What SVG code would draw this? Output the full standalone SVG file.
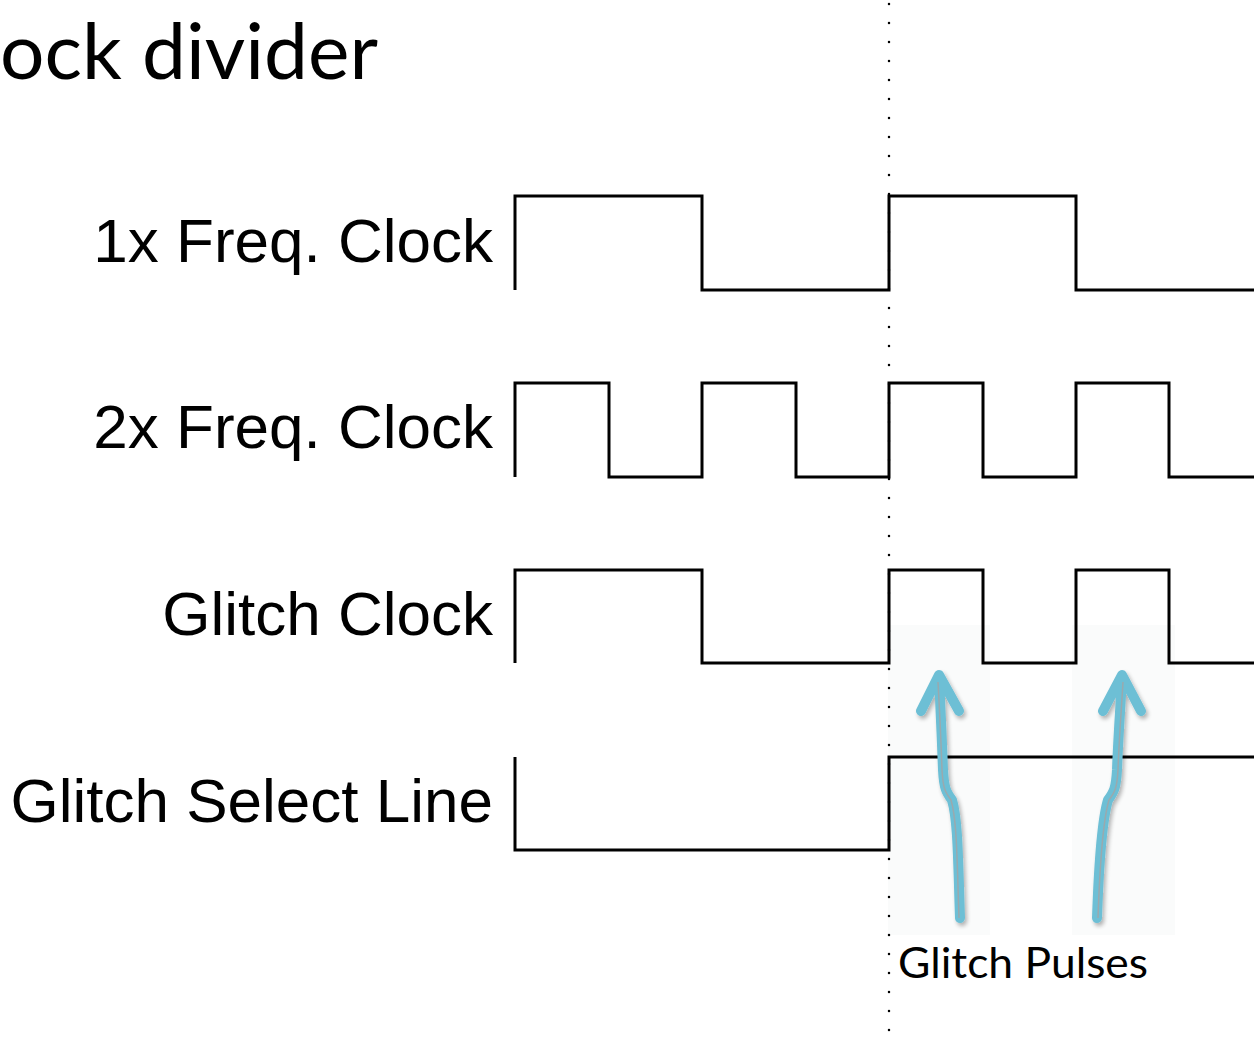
<svg xmlns="http://www.w3.org/2000/svg" width="1254" height="1039" viewBox="0 0 1254 1039">
<style>
.wave{fill:none;stroke:#000;stroke-width:3;stroke-linejoin:miter}
.lbl{font-family:"Liberation Sans",Arial,sans-serif;font-size:62px;fill:#000;text-anchor:end}
.arrow{fill:none;stroke:#6dbfd5;stroke-width:10;stroke-linecap:round;stroke-linejoin:round}
.core{fill:none;stroke:#9aa9ae;stroke-width:1.5}
.hl{fill:#fafbfb}
</style>
<defs>
<filter id="sh" x="-50%" y="-10%" width="200%" height="120%">
<feGaussianBlur in="SourceAlpha" stdDeviation="2"/>
<feOffset dx="2" dy="3"/>
<feComponentTransfer><feFuncA type="linear" slope="0.3"/></feComponentTransfer>
<feMerge><feMergeNode/><feMergeNode in="SourceGraphic"/></feMerge>
</filter>
</defs>
<rect width="1254" height="1039" fill="#fff"/>
<g id="highlights">
<rect class="hl" x="888" y="625" width="102" height="310"/>
<rect class="hl" x="1072" y="625" width="103" height="310"/>
</g>
<text id="title" x="0" y="79" font-family="Lato,'Open Sans',sans-serif" font-size="78" textLength="378" lengthAdjust="spacingAndGlyphs">ock divider</text>
<line id="divider" x1="889" y1="4" x2="889" y2="1039" stroke="#000" stroke-width="2.5" stroke-dasharray="0 19" stroke-linecap="round"/>
<g id="clk1x">
<text class="lbl" x="493" y="262">1x Freq. Clock</text>
<path class="wave" d="M515,290 V196 H702 V290 H889 V196 H1076 V290 H1254"/>
</g>
<g id="clk2x">
<text class="lbl" x="493" y="448">2x Freq. Clock</text>
<path class="wave" d="M515,477 V383 H609 V477 H702 V383 H796 V477 H889 V383 H983 V477 H1076 V383 H1169 V477 H1254"/>
</g>
<g id="glitchclk">
<text class="lbl" x="493" y="635">Glitch Clock</text>
<path class="wave" d="M515,663 V570 H702 V663 H889 V570 H983 V663 H1076 V570 H1169 V663 H1254"/>
</g>
<g id="select">
<text class="lbl" x="493" y="822">Glitch Select Line</text>
<path class="wave" d="M515,757 V850 H889 V757 H1254"/>
</g>
<g id="connectors">
<g filter="url(#sh)">
<path class="arrow" d="M960,918 C958,860 958,820 952,800 C946,792 944,788 943,770 C942,740 940,700 939,676 M921,711 L939,675 L959,711"/>
<path class="arrow" d="M1097,918 C1099,860 1102,820 1108,800 C1114,792 1116,788 1117,770 C1118,740 1121,700 1122,676 M1103,711 L1122,675 L1141,711"/>
</g>
<path class="core" d="M959,918 C957,860 957,820 951,800 C945,792 943,788 942,770 C941,740 939,700 938,682"/>
<path class="core" d="M1098,918 C1100,860 1103,820 1109,800 C1115,792 1117,788 1118,770 C1119,740 1122,700 1123,682"/>
</g>
<text id="pulses" x="898" y="978" font-family="Lato,'Open Sans',sans-serif" font-size="42" textLength="250" lengthAdjust="spacingAndGlyphs">Glitch Pulses</text>
</svg>
